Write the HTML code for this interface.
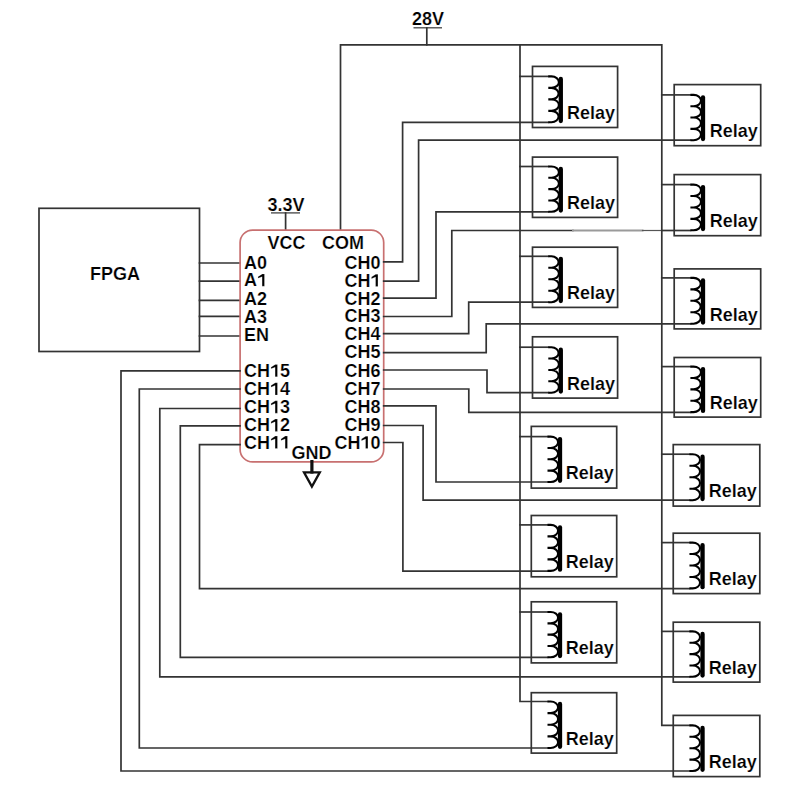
<!DOCTYPE html>
<html><head><meta charset="utf-8"><style>
html,body{margin:0;padding:0;background:#fff;}
svg{display:block;}
text{font-family:"Liberation Sans",sans-serif;font-weight:bold;fill:#000;font-kerning:none;stroke:#fff;stroke-width:0.2px;}
.h{fill:transparent;}
</style></head><body>
<svg width="800" height="791" viewBox="0 0 800 791">
<rect width="800" height="791" fill="#fff"/>
<text transform="translate(428,25) scale(1,1.0)" x="0" y="0" text-anchor="middle" font-size="18">28V</text>
<path d="M413.5,27.8 L442,27.8" fill="none" stroke="#444" stroke-width="1.3" stroke-linejoin="miter" stroke-linecap="butt"/>
<path d="M426.8,28 L426.8,44.8" fill="none" stroke="#333" stroke-width="1.7" stroke-linejoin="miter" stroke-linecap="square"/>
<path d="M340.5,230 L340.5,44.8 L661.8,44.8 L661.8,725.4 L689.45,725.4" fill="none" stroke="#333" stroke-width="1.7" stroke-linejoin="miter" stroke-linecap="square"/>
<path d="M520,44.8 L520,701.5 L547.5,701.5" fill="none" stroke="#333" stroke-width="1.7" stroke-linejoin="miter" stroke-linecap="square"/>
<text transform="translate(286,211) scale(1,1.0)" x="0" y="0" text-anchor="middle" font-size="18">3.3V</text>
<path d="M271,212.9 L300,212.9" fill="none" stroke="#444" stroke-width="1.3" stroke-linejoin="miter" stroke-linecap="butt"/>
<path d="M285.6,213 L285.6,230" fill="none" stroke="#333" stroke-width="1.7" stroke-linejoin="miter" stroke-linecap="square"/>
<rect x="39" y="208.3" width="160.5" height="143.2" fill="none" stroke="#333" stroke-width="1.7"/>
<text transform="translate(115,279.8) scale(1,1.0)" x="0" y="0" text-anchor="middle" font-size="18">FPGA</text>
<path d="M199.5,263.0 L240,263.0" fill="none" stroke="#333" stroke-width="1.7" stroke-linejoin="miter" stroke-linecap="square"/>
<path d="M199.5,281.2 L240,281.2" fill="none" stroke="#333" stroke-width="1.7" stroke-linejoin="miter" stroke-linecap="square"/>
<path d="M199.5,300.4 L240,300.4" fill="none" stroke="#333" stroke-width="1.7" stroke-linejoin="miter" stroke-linecap="square"/>
<path d="M199.5,316.4 L240,316.4" fill="none" stroke="#333" stroke-width="1.7" stroke-linejoin="miter" stroke-linecap="square"/>
<path d="M199.5,336.0 L240,336.0" fill="none" stroke="#333" stroke-width="1.7" stroke-linejoin="miter" stroke-linecap="square"/>
<rect x="240.1" y="230.1" width="143.6" height="231.8" rx="12.5" ry="12.5" fill="none" stroke="#c87070" stroke-width="1.7"/>
<text transform="translate(286.5,249.3) scale(1,1.0)" x="0" y="0" text-anchor="middle" font-size="18">VCC</text>
<text transform="translate(343,249.3) scale(1,1.0)" x="0" y="0" text-anchor="middle" font-size="18">COM</text>
<text transform="translate(244,268.8) scale(1,1.0)" x="0" y="0" text-anchor="start" font-size="18">A0</text>
<text transform="translate(244,286.3) scale(1,1.0)" x="0" y="0" text-anchor="start" font-size="18">A<tspan class="h">1</tspan></text>
<text transform="translate(244,304.5) scale(1,1.0)" x="0" y="0" text-anchor="start" font-size="18">A2</text>
<text transform="translate(244,322.5) scale(1,1.0)" x="0" y="0" text-anchor="start" font-size="18">A3</text>
<text transform="translate(244,340.6) scale(1,1.0)" x="0" y="0" text-anchor="start" font-size="18">EN</text>
<text transform="translate(244,376.8) scale(1,1.0)" x="0" y="0" text-anchor="start" font-size="18">CH<tspan class="h">1</tspan>5</text>
<text transform="translate(244,395.1) scale(1,1.0)" x="0" y="0" text-anchor="start" font-size="18">CH<tspan class="h">1</tspan>4</text>
<text transform="translate(244,413.2) scale(1,1.0)" x="0" y="0" text-anchor="start" font-size="18">CH<tspan class="h">1</tspan>3</text>
<text transform="translate(244,431.4) scale(1,1.0)" x="0" y="0" text-anchor="start" font-size="18">CH<tspan class="h">1</tspan>2</text>
<text transform="translate(244,448.5) scale(1,1.0)" x="0" y="0" text-anchor="start" font-size="18">CH<tspan class="h">1</tspan><tspan class="h">1</tspan></text>
<text transform="translate(380.5,268.8) scale(1,1.0)" x="0" y="0" text-anchor="end" font-size="18">CH0</text>
<text transform="translate(380.5,286.6) scale(1,1.0)" x="0" y="0" text-anchor="end" font-size="18">CH<tspan class="h">1</tspan></text>
<text transform="translate(380.5,304.5) scale(1,1.0)" x="0" y="0" text-anchor="end" font-size="18">CH2</text>
<text transform="translate(380.5,322.3) scale(1,1.0)" x="0" y="0" text-anchor="end" font-size="18">CH3</text>
<text transform="translate(380.5,340) scale(1,1.0)" x="0" y="0" text-anchor="end" font-size="18">CH4</text>
<text transform="translate(380.5,358.3) scale(1,1.0)" x="0" y="0" text-anchor="end" font-size="18">CH5</text>
<text transform="translate(380.5,376.6) scale(1,1.0)" x="0" y="0" text-anchor="end" font-size="18">CH6</text>
<text transform="translate(380.5,394.8) scale(1,1.0)" x="0" y="0" text-anchor="end" font-size="18">CH7</text>
<text transform="translate(380.5,412.8) scale(1,1.0)" x="0" y="0" text-anchor="end" font-size="18">CH8</text>
<text transform="translate(380.5,430.8) scale(1,1.0)" x="0" y="0" text-anchor="end" font-size="18">CH9</text>
<text transform="translate(380.5,448.6) scale(1,1.0)" x="0" y="0" text-anchor="end" font-size="18">CH<tspan class="h">1</tspan>0</text>
<text transform="translate(311.5,458.7) scale(1,1.0)" x="0" y="0" text-anchor="middle" font-size="18">GND</text>
<path d="M311.9,461.6 L311.9,472" fill="none" stroke="#111" stroke-width="3.2" stroke-linejoin="miter" stroke-linecap="square"/>
<path d="M304,472.3 L319.8,472.3 L311.9,486.6 Z" fill="none" stroke="#111" stroke-width="2.3" stroke-linejoin="miter"/>
<path d="M383.7,261.8 L402.6,261.8 L402.6,122.3 L548.3,122.3" fill="none" stroke="#333" stroke-width="1.7" stroke-linejoin="miter" stroke-linecap="square"/>
<path d="M383.7,281.2 L418.6,281.2 L418.6,140.2 L690.4,140.2" fill="none" stroke="#333" stroke-width="1.7" stroke-linejoin="miter" stroke-linecap="square"/>
<path d="M383.7,298.2 L436,298.2 L436,211.8 L548.3,211.8" fill="none" stroke="#333" stroke-width="1.7" stroke-linejoin="miter" stroke-linecap="square"/>
<path d="M383.7,316.5 L451.8,316.5 L451.8,230.5 L573,230.5" fill="none" stroke="#333" stroke-width="1.7" stroke-linejoin="miter" stroke-linecap="square"/>
<path d="M573,230.5 L642.5,230.5" fill="none" stroke="#9a9a9a" stroke-width="2" stroke-linejoin="miter" stroke-linecap="square"/>
<path d="M642.5,230.5 L661.8,230.5" fill="none" stroke="#555" stroke-width="1.2" stroke-linejoin="miter" stroke-linecap="square"/>
<path d="M661.8,230.5 L690.4,230.5" fill="none" stroke="#333" stroke-width="1.7" stroke-linejoin="miter" stroke-linecap="square"/>
<path d="M383.7,333.6 L468.7,333.6 L468.7,302.2 L548.3,302.2" fill="none" stroke="#333" stroke-width="1.7" stroke-linejoin="miter" stroke-linecap="square"/>
<path d="M383.7,352.6 L486.2,352.6 L486.2,323.8 L690.4,323.8" fill="none" stroke="#333" stroke-width="1.7" stroke-linejoin="miter" stroke-linecap="square"/>
<path d="M383.7,370 L487,370 L487,392.7 L548.3,392.7" fill="none" stroke="#333" stroke-width="1.7" stroke-linejoin="miter" stroke-linecap="square"/>
<path d="M383.7,389 L468.8,389 L468.8,412.3 L690.4,412.3" fill="none" stroke="#333" stroke-width="1.7" stroke-linejoin="miter" stroke-linecap="square"/>
<path d="M383.7,405.9 L436,405.9 L436,482.0 L547.5,482.0" fill="none" stroke="#333" stroke-width="1.7" stroke-linejoin="miter" stroke-linecap="square"/>
<path d="M383.7,425.5 L423.1,425.5 L423.1,500.2 L689.45,500.2" fill="none" stroke="#333" stroke-width="1.7" stroke-linejoin="miter" stroke-linecap="square"/>
<path d="M383.7,442.5 L402.9,442.5 L402.9,571.1 L547.5,571.1" fill="none" stroke="#333" stroke-width="1.7" stroke-linejoin="miter" stroke-linecap="square"/>
<path d="M240,370.8 L121,370.8 L121,771 L689.45,771" fill="none" stroke="#333" stroke-width="1.7" stroke-linejoin="miter" stroke-linecap="square"/>
<path d="M240,389 L139.3,389 L139.3,748 L547.5,748" fill="none" stroke="#333" stroke-width="1.7" stroke-linejoin="miter" stroke-linecap="square"/>
<path d="M240,408.5 L159.8,408.5 L159.8,676.8 L689.45,676.8" fill="none" stroke="#333" stroke-width="1.7" stroke-linejoin="miter" stroke-linecap="square"/>
<path d="M240,425.9 L180.3,425.9 L180.3,657.3 L547.5,657.3" fill="none" stroke="#333" stroke-width="1.7" stroke-linejoin="miter" stroke-linecap="square"/>
<path d="M240,444.6 L199.5,444.6 L199.5,588.6 L689.45,588.6" fill="none" stroke="#333" stroke-width="1.7" stroke-linejoin="miter" stroke-linecap="square"/>
<rect x="532.5" y="66.4" width="85.10000000000002" height="61.099999999999994" fill="none" stroke="#333" stroke-width="1.7"/>
<path d="M520,76.4 L548.3,76.4" fill="none" stroke="#333" stroke-width="1.7" stroke-linejoin="miter" stroke-linecap="square"/>
<path d="M548.3,76.4 L551.50,76.40 A7.4,5.74 0 0 1 551.50,87.88 L548.3,87.88 L551.50,87.88 A7.4,5.74 0 0 1 551.50,99.35 L548.3,99.35 L551.50,99.35 A7.4,5.74 0 0 1 551.50,110.83 L548.3,110.83 L551.50,110.83 A7.4,5.74 0 0 1 551.50,122.30 L548.3,122.30" fill="none" stroke="#000" stroke-width="2.1"/>
<line x1="560.8" y1="78.9" x2="560.8" y2="121.1" stroke="#000" stroke-width="4.3" stroke-linecap="round"/>
<text transform="translate(567.0,119.2) scale(1,1.0)" x="0" y="0" text-anchor="start" font-size="18">Relay</text>
<rect x="532.5" y="157.1" width="85.10000000000002" height="60.30000000000001" fill="none" stroke="#333" stroke-width="1.7"/>
<path d="M520,166.5 L548.3,166.5" fill="none" stroke="#333" stroke-width="1.7" stroke-linejoin="miter" stroke-linecap="square"/>
<path d="M548.3,166.5 L551.50,166.50 A7.4,5.66 0 0 1 551.50,177.82 L548.3,177.82 L551.50,177.82 A7.4,5.66 0 0 1 551.50,189.15 L548.3,189.15 L551.50,189.15 A7.4,5.66 0 0 1 551.50,200.48 L548.3,200.48 L551.50,200.48 A7.4,5.66 0 0 1 551.50,211.80 L548.3,211.80" fill="none" stroke="#000" stroke-width="2.1"/>
<line x1="560.8" y1="169.0" x2="560.8" y2="210.60000000000002" stroke="#000" stroke-width="4.3" stroke-linecap="round"/>
<text transform="translate(567.0,208.70000000000002) scale(1,1.0)" x="0" y="0" text-anchor="start" font-size="18">Relay</text>
<rect x="532.5" y="247.2" width="85.10000000000002" height="60.19999999999999" fill="none" stroke="#333" stroke-width="1.7"/>
<path d="M520,256.3 L548.3,256.3" fill="none" stroke="#333" stroke-width="1.7" stroke-linejoin="miter" stroke-linecap="square"/>
<path d="M548.3,256.3 L551.50,256.30 A7.4,5.74 0 0 1 551.50,267.77 L548.3,267.77 L551.50,267.77 A7.4,5.74 0 0 1 551.50,279.25 L548.3,279.25 L551.50,279.25 A7.4,5.74 0 0 1 551.50,290.73 L548.3,290.73 L551.50,290.73 A7.4,5.74 0 0 1 551.50,302.20 L548.3,302.20" fill="none" stroke="#000" stroke-width="2.1"/>
<line x1="560.8" y1="258.8" x2="560.8" y2="301.0" stroke="#000" stroke-width="4.3" stroke-linecap="round"/>
<text transform="translate(567.0,299.09999999999997) scale(1,1.0)" x="0" y="0" text-anchor="start" font-size="18">Relay</text>
<rect x="532.5" y="336.8" width="85.10000000000002" height="61.30000000000001" fill="none" stroke="#333" stroke-width="1.7"/>
<path d="M520,347.2 L548.3,347.2" fill="none" stroke="#333" stroke-width="1.7" stroke-linejoin="miter" stroke-linecap="square"/>
<path d="M548.3,347.2 L551.50,347.20 A7.4,5.69 0 0 1 551.50,358.57 L548.3,358.57 L551.50,358.57 A7.4,5.69 0 0 1 551.50,369.95 L548.3,369.95 L551.50,369.95 A7.4,5.69 0 0 1 551.50,381.32 L548.3,381.32 L551.50,381.32 A7.4,5.69 0 0 1 551.50,392.70 L548.3,392.70" fill="none" stroke="#000" stroke-width="2.1"/>
<line x1="560.8" y1="349.7" x2="560.8" y2="391.5" stroke="#000" stroke-width="4.3" stroke-linecap="round"/>
<text transform="translate(567.0,389.59999999999997) scale(1,1.0)" x="0" y="0" text-anchor="start" font-size="18">Relay</text>
<rect x="531.3" y="426.4" width="85.40000000000009" height="61.700000000000045" fill="none" stroke="#333" stroke-width="1.7"/>
<path d="M520,436.6 L547.5,436.6" fill="none" stroke="#333" stroke-width="1.7" stroke-linejoin="miter" stroke-linecap="square"/>
<path d="M547.5,436.6 L550.70,436.60 A7.4,5.67 0 0 1 550.70,447.95 L547.5,447.95 L550.70,447.95 A7.4,5.67 0 0 1 550.70,459.30 L547.5,459.30 L550.70,459.30 A7.4,5.67 0 0 1 550.70,470.65 L547.5,470.65 L550.70,470.65 A7.4,5.67 0 0 1 550.70,482.00 L547.5,482.00" fill="none" stroke="#000" stroke-width="2.1"/>
<line x1="560.0" y1="439.1" x2="560.0" y2="480.8" stroke="#000" stroke-width="4.3" stroke-linecap="round"/>
<text transform="translate(565.8,478.9) scale(1,1.0)" x="0" y="0" text-anchor="start" font-size="18">Relay</text>
<rect x="531.3" y="515.5" width="85.40000000000009" height="61.299999999999955" fill="none" stroke="#333" stroke-width="1.7"/>
<path d="M520,524.9 L547.5,524.9" fill="none" stroke="#333" stroke-width="1.7" stroke-linejoin="miter" stroke-linecap="square"/>
<path d="M547.5,524.9 L550.70,524.90 A7.4,5.75 0 0 1 550.70,536.40 L547.5,536.40 L550.70,536.40 A7.4,5.75 0 0 1 550.70,547.90 L547.5,547.90 L550.70,547.90 A7.4,5.75 0 0 1 550.70,559.40 L547.5,559.40 L550.70,559.40 A7.4,5.75 0 0 1 550.70,570.90 L547.5,570.90" fill="none" stroke="#000" stroke-width="2.1"/>
<line x1="560.0" y1="527.4" x2="560.0" y2="569.6999999999999" stroke="#000" stroke-width="4.3" stroke-linecap="round"/>
<text transform="translate(565.8,567.8) scale(1,1.0)" x="0" y="0" text-anchor="start" font-size="18">Relay</text>
<rect x="531.3" y="601.8" width="85.40000000000009" height="61.10000000000002" fill="none" stroke="#333" stroke-width="1.7"/>
<path d="M520,612.0 L547.5,612.0" fill="none" stroke="#333" stroke-width="1.7" stroke-linejoin="miter" stroke-linecap="square"/>
<path d="M547.5,612.0 L550.70,612.00 A7.4,5.66 0 0 1 550.70,623.33 L547.5,623.33 L550.70,623.33 A7.4,5.66 0 0 1 550.70,634.65 L547.5,634.65 L550.70,634.65 A7.4,5.66 0 0 1 550.70,645.97 L547.5,645.97 L550.70,645.97 A7.4,5.66 0 0 1 550.70,657.30 L547.5,657.30" fill="none" stroke="#000" stroke-width="2.1"/>
<line x1="560.0" y1="614.5" x2="560.0" y2="656.0999999999999" stroke="#000" stroke-width="4.3" stroke-linecap="round"/>
<text transform="translate(565.8,654.1999999999999) scale(1,1.0)" x="0" y="0" text-anchor="start" font-size="18">Relay</text>
<rect x="531.3" y="692.7" width="85.40000000000009" height="60.39999999999998" fill="none" stroke="#333" stroke-width="1.7"/>
<path d="M547.5,701.5 L550.70,701.50 A7.4,5.81 0 0 1 550.70,713.12 L547.5,713.12 L550.70,713.12 A7.4,5.81 0 0 1 550.70,724.75 L547.5,724.75 L550.70,724.75 A7.4,5.81 0 0 1 550.70,736.38 L547.5,736.38 L550.70,736.38 A7.4,5.81 0 0 1 550.70,748.00 L547.5,748.00" fill="none" stroke="#000" stroke-width="2.1"/>
<line x1="560.0" y1="704.0" x2="560.0" y2="746.8" stroke="#000" stroke-width="4.3" stroke-linecap="round"/>
<text transform="translate(565.8,744.9) scale(1,1.0)" x="0" y="0" text-anchor="start" font-size="18">Relay</text>
<rect x="674.2" y="84.6" width="86.5" height="61.099999999999994" fill="none" stroke="#333" stroke-width="1.7"/>
<path d="M661.8,94.9 L690.4000000000001,94.9" fill="none" stroke="#333" stroke-width="1.7" stroke-linejoin="miter" stroke-linecap="square"/>
<path d="M690.4000000000001,94.9 L693.60,94.90 A7.4,5.66 0 0 1 693.60,106.22 L690.4000000000001,106.22 L693.60,106.22 A7.4,5.66 0 0 1 693.60,117.55 L690.4000000000001,117.55 L693.60,117.55 A7.4,5.66 0 0 1 693.60,128.88 L690.4000000000001,128.88 L693.60,128.88 A7.4,5.66 0 0 1 693.60,140.20 L690.4000000000001,140.20" fill="none" stroke="#000" stroke-width="2.1"/>
<line x1="703.0000000000001" y1="97.4" x2="703.0000000000001" y2="139.0" stroke="#000" stroke-width="4.3" stroke-linecap="round"/>
<text transform="translate(709.7,137.1) scale(1,1.0)" x="0" y="0" text-anchor="start" font-size="18">Relay</text>
<rect x="674.2" y="174.6" width="86.5" height="61.099999999999994" fill="none" stroke="#333" stroke-width="1.7"/>
<path d="M661.8,184.6 L690.4000000000001,184.6" fill="none" stroke="#333" stroke-width="1.7" stroke-linejoin="miter" stroke-linecap="square"/>
<path d="M690.4000000000001,184.6 L693.60,184.60 A7.4,5.71 0 0 1 693.60,196.03 L690.4000000000001,196.03 L693.60,196.03 A7.4,5.71 0 0 1 693.60,207.45 L690.4000000000001,207.45 L693.60,207.45 A7.4,5.71 0 0 1 693.60,218.88 L690.4000000000001,218.88 L693.60,218.88 A7.4,5.71 0 0 1 693.60,230.30 L690.4000000000001,230.30" fill="none" stroke="#000" stroke-width="2.1"/>
<line x1="703.0000000000001" y1="187.1" x2="703.0000000000001" y2="229.10000000000002" stroke="#000" stroke-width="4.3" stroke-linecap="round"/>
<text transform="translate(709.7,227.20000000000002) scale(1,1.0)" x="0" y="0" text-anchor="start" font-size="18">Relay</text>
<rect x="674.2" y="268.9" width="86.5" height="60.0" fill="none" stroke="#333" stroke-width="1.7"/>
<path d="M661.8,277.9 L690.4000000000001,277.9" fill="none" stroke="#333" stroke-width="1.7" stroke-linejoin="miter" stroke-linecap="square"/>
<path d="M690.4000000000001,277.9 L693.60,277.90 A7.4,5.73 0 0 1 693.60,289.35 L690.4000000000001,289.35 L693.60,289.35 A7.4,5.73 0 0 1 693.60,300.80 L690.4000000000001,300.80 L693.60,300.80 A7.4,5.73 0 0 1 693.60,312.25 L690.4000000000001,312.25 L693.60,312.25 A7.4,5.73 0 0 1 693.60,323.70 L690.4000000000001,323.70" fill="none" stroke="#000" stroke-width="2.1"/>
<line x1="703.0000000000001" y1="280.4" x2="703.0000000000001" y2="322.5" stroke="#000" stroke-width="4.3" stroke-linecap="round"/>
<text transform="translate(709.7,320.59999999999997) scale(1,1.0)" x="0" y="0" text-anchor="start" font-size="18">Relay</text>
<rect x="674.2" y="357.5" width="86.5" height="59.60000000000002" fill="none" stroke="#333" stroke-width="1.7"/>
<path d="M661.8,366.6 L690.4000000000001,366.6" fill="none" stroke="#333" stroke-width="1.7" stroke-linejoin="miter" stroke-linecap="square"/>
<path d="M690.4000000000001,366.6 L693.60,366.60 A7.4,5.69 0 0 1 693.60,377.98 L690.4000000000001,377.98 L693.60,377.98 A7.4,5.69 0 0 1 693.60,389.35 L690.4000000000001,389.35 L693.60,389.35 A7.4,5.69 0 0 1 693.60,400.73 L690.4000000000001,400.73 L693.60,400.73 A7.4,5.69 0 0 1 693.60,412.10 L690.4000000000001,412.10" fill="none" stroke="#000" stroke-width="2.1"/>
<line x1="703.0000000000001" y1="369.1" x2="703.0000000000001" y2="410.90000000000003" stroke="#000" stroke-width="4.3" stroke-linecap="round"/>
<text transform="translate(709.7,409.0) scale(1,1.0)" x="0" y="0" text-anchor="start" font-size="18">Relay</text>
<rect x="673.25" y="444.6" width="86.54999999999995" height="61.5" fill="none" stroke="#333" stroke-width="1.7"/>
<path d="M661.8,454.2 L689.45,454.2" fill="none" stroke="#333" stroke-width="1.7" stroke-linejoin="miter" stroke-linecap="square"/>
<path d="M689.45,454.2 L692.65,454.20 A7.4,5.75 0 0 1 692.65,465.70 L689.45,465.70 L692.65,465.70 A7.4,5.75 0 0 1 692.65,477.20 L689.45,477.20 L692.65,477.20 A7.4,5.75 0 0 1 692.65,488.70 L689.45,488.70 L692.65,488.70 A7.4,5.75 0 0 1 692.65,500.20 L689.45,500.20" fill="none" stroke="#000" stroke-width="2.1"/>
<line x1="702.5500000000001" y1="456.7" x2="702.5500000000001" y2="499.0" stroke="#000" stroke-width="4.3" stroke-linecap="round"/>
<text transform="translate(708.75,497.09999999999997) scale(1,1.0)" x="0" y="0" text-anchor="start" font-size="18">Relay</text>
<rect x="673.25" y="533.2" width="86.54999999999995" height="60.39999999999998" fill="none" stroke="#333" stroke-width="1.7"/>
<path d="M661.8,542.6 L689.45,542.6" fill="none" stroke="#333" stroke-width="1.7" stroke-linejoin="miter" stroke-linecap="square"/>
<path d="M689.45,542.6 L692.65,542.60 A7.4,5.72 0 0 1 692.65,554.05 L689.45,554.05 L692.65,554.05 A7.4,5.72 0 0 1 692.65,565.50 L689.45,565.50 L692.65,565.50 A7.4,5.72 0 0 1 692.65,576.95 L689.45,576.95 L692.65,576.95 A7.4,5.72 0 0 1 692.65,588.40 L689.45,588.40" fill="none" stroke="#000" stroke-width="2.1"/>
<line x1="702.5500000000001" y1="545.1" x2="702.5500000000001" y2="587.1999999999999" stroke="#000" stroke-width="4.3" stroke-linecap="round"/>
<text transform="translate(708.75,585.3) scale(1,1.0)" x="0" y="0" text-anchor="start" font-size="18">Relay</text>
<rect x="673.25" y="622.2" width="86.54999999999995" height="59.89999999999998" fill="none" stroke="#333" stroke-width="1.7"/>
<path d="M661.8,631.4 L689.45,631.4" fill="none" stroke="#333" stroke-width="1.7" stroke-linejoin="miter" stroke-linecap="square"/>
<path d="M689.45,631.4 L692.65,631.40 A7.4,5.67 0 0 1 692.65,642.75 L689.45,642.75 L692.65,642.75 A7.4,5.67 0 0 1 692.65,654.10 L689.45,654.10 L692.65,654.10 A7.4,5.67 0 0 1 692.65,665.45 L689.45,665.45 L692.65,665.45 A7.4,5.67 0 0 1 692.65,676.80 L689.45,676.80" fill="none" stroke="#000" stroke-width="2.1"/>
<line x1="702.5500000000001" y1="633.9" x2="702.5500000000001" y2="675.5999999999999" stroke="#000" stroke-width="4.3" stroke-linecap="round"/>
<text transform="translate(708.75,673.6999999999999) scale(1,1.0)" x="0" y="0" text-anchor="start" font-size="18">Relay</text>
<rect x="673.25" y="715.4" width="86.54999999999995" height="61.200000000000045" fill="none" stroke="#333" stroke-width="1.7"/>
<path d="M689.45,725.4 L692.65,725.40 A7.4,5.70 0 0 1 692.65,736.80 L689.45,736.80 L692.65,736.80 A7.4,5.70 0 0 1 692.65,748.20 L689.45,748.20 L692.65,748.20 A7.4,5.70 0 0 1 692.65,759.60 L689.45,759.60 L692.65,759.60 A7.4,5.70 0 0 1 692.65,771.00 L689.45,771.00" fill="none" stroke="#000" stroke-width="2.1"/>
<line x1="702.5500000000001" y1="727.9" x2="702.5500000000001" y2="769.8" stroke="#000" stroke-width="4.3" stroke-linecap="round"/>
<text transform="translate(708.75,767.9) scale(1,1.0)" x="0" y="0" text-anchor="start" font-size="18">Relay</text>
<path transform="translate(257.000,286.300) scale(0.008789,-0.008789)" d="M850,0 L580,0 L580,1090 L110,905 L110,1095 L600,1409 L850,1409 Z" fill="#000" stroke="#fff" stroke-width="25"/>
<path transform="translate(270.000,376.800) scale(0.008789,-0.008789)" d="M850,0 L580,0 L580,1090 L110,905 L110,1095 L600,1409 L850,1409 Z" fill="#000" stroke="#fff" stroke-width="25"/>
<path transform="translate(270.000,395.100) scale(0.008789,-0.008789)" d="M850,0 L580,0 L580,1090 L110,905 L110,1095 L600,1409 L850,1409 Z" fill="#000" stroke="#fff" stroke-width="25"/>
<path transform="translate(270.000,413.200) scale(0.008789,-0.008789)" d="M850,0 L580,0 L580,1090 L110,905 L110,1095 L600,1409 L850,1409 Z" fill="#000" stroke="#fff" stroke-width="25"/>
<path transform="translate(270.000,431.400) scale(0.008789,-0.008789)" d="M850,0 L580,0 L580,1090 L110,905 L110,1095 L600,1409 L850,1409 Z" fill="#000" stroke="#fff" stroke-width="25"/>
<path transform="translate(270.000,448.500) scale(0.008789,-0.008789)" d="M850,0 L580,0 L580,1090 L110,905 L110,1095 L600,1409 L850,1409 Z" fill="#000" stroke="#fff" stroke-width="25"/>
<path transform="translate(280.016,448.500) scale(0.008789,-0.008789)" d="M850,0 L580,0 L580,1090 L110,905 L110,1095 L600,1409 L850,1409 Z" fill="#000" stroke="#fff" stroke-width="25"/>
<path transform="translate(370.484,286.600) scale(0.008789,-0.008789)" d="M850,0 L580,0 L580,1090 L110,905 L110,1095 L600,1409 L850,1409 Z" fill="#000" stroke="#fff" stroke-width="25"/>
<path transform="translate(360.469,448.600) scale(0.008789,-0.008789)" d="M850,0 L580,0 L580,1090 L110,905 L110,1095 L600,1409 L850,1409 Z" fill="#000" stroke="#fff" stroke-width="25"/>
</svg>
</body></html>
